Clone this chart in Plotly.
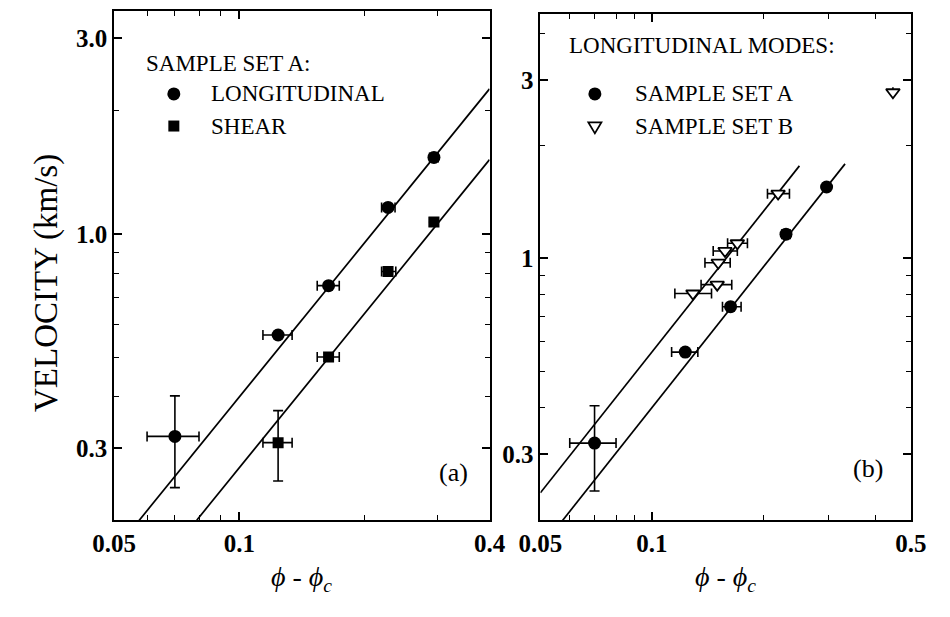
import numpy as np
import plotly.graph_objects as go

# ---------------- data ----------------
# Panel (a): sample set A
long_a_x = [0.070, 0.124, 0.164, 0.228, 0.294]
long_a_y = [0.320, 0.566, 0.747, 1.160, 1.536]
long_a_xlo = [0.060, 0.114, 0.154, 0.220, 0.287]
long_a_xhi = [0.080, 0.134, 0.174, 0.237, 0.301]
long_a_ylo = [0.240, None, None, None, None]
long_a_yhi = [0.402, None, None, None, None]

shear_a_x = [0.124, 0.164, 0.228, 0.294]
shear_a_y = [0.309, 0.500, 0.809, 1.068]
shear_a_xlo = [0.114, 0.154, 0.220, 0.287]
shear_a_xhi = [0.134, 0.174, 0.238, 0.301]
shear_a_ylo = [0.249, None, None, None]
shear_a_yhi = [0.370, None, None, None]

# Panel (b): longitudinal modes
b_setA_x = [0.070, 0.123, 0.163, 0.230, 0.296]
b_setA_y = [0.321, 0.562, 0.743, 1.161, 1.552]
b_setA_xlo = [0.060, 0.113, 0.155, 0.224, 0.290]
b_setA_xhi = [0.080, 0.133, 0.174, 0.236, 0.302]
b_setA_ylo = [0.239, None, None, None, None]
b_setA_yhi = [0.404, None, None, None, None]

b_setB_x = [0.129, 0.150, 0.151, 0.1575, 0.170, 0.219, 0.447]
b_setB_y = [0.806, 0.851, 0.974, 1.047, 1.098, 1.490, 2.78]
b_setB_xlo = [0.1153, 0.1357, 0.139, 0.1463, 0.160, 0.205, None]
b_setB_xhi = [0.1448, 0.1642, 0.1626, 0.170, 0.181, 0.235, None]

# power-law fits  v = A * (phi - phi_c)^n
fit_exponent = 1.25
fit_A_long_setA = 7.1
fit_A_shear_setA = 4.77
fit_A_long_setB = 10.0
fit_xrange_a_long = [0.0574, 0.40]
fit_xrange_a_shear = [0.079, 0.40]
fit_xrange_b_setA = [0.0569, 0.332]
fit_xrange_b_setB = [0.050, 0.250]

# axis ticks
xa_range = [0.05, 0.4]
xb_range = [0.05, 0.5]
ya_range = [0.2, 3.5]
yb_range = [0.2, 4.5]
xa_ticks = [0.05, 0.1, 0.4]
xa_ticktext = ["0.05", "0.1", "0.4"]
xa_minor = [0.06, 0.07, 0.08, 0.09, 0.2, 0.3]
xb_ticks = [0.05, 0.1, 0.5]
xb_ticktext = ["0.05", "0.1", "0.5"]
xb_minor = [0.06, 0.07, 0.08, 0.09, 0.2, 0.3, 0.4]
ya_ticks = [0.3, 1.0, 3.0]
ya_ticktext = ["0.3", "1.0", "3.0"]
ya_minor = [0.4, 0.5, 0.6, 0.7, 0.8, 0.9, 2.0]
yb_ticks = [0.3, 1, 3]
yb_ticktext = ["0.3", "1", "3"]
yb_minor = [0.4, 0.5, 0.6, 0.7, 0.8, 0.9, 2.0, 4.0]

FONT = "Liberation Serif"


def err(vals, lo, hi):
    plus = [None if h is None else h - v for v, h in zip(vals, hi)]
    minus = [None if l is None else v - l for v, l in zip(vals, lo)]
    return plus, minus


def fit_line(A, xr):
    x = np.array(xr)
    return x, A * x ** fit_exponent


fig = go.Figure()

ebar = dict(type="data", symmetric=False, color="black", thickness=1.6, width=5)


def add_points(x, y, xlo, xhi, ylo, yhi, symbol, size, xa, ya, open_=False):
    xp, xm = err(x, xlo, xhi)
    kw = {}
    kw["error_x"] = dict(ebar, array=xp, arrayminus=xm)
    if ylo is not None:
        yp, ym = err(y, ylo, yhi)
        kw["error_y"] = dict(ebar, array=yp, arrayminus=ym)
    marker = dict(symbol=symbol, size=size, color="white" if open_ else "black",
                  line=dict(color="black", width=1.8 if open_ else 0))
    fig.add_trace(go.Scatter(x=x, y=y, mode="markers", marker=marker,
                             xaxis=xa, yaxis=ya, showlegend=False, **kw))


def add_line(A, xr, xa, ya):
    lx, ly = fit_line(A, xr)
    fig.add_trace(go.Scatter(x=lx, y=ly, mode="lines", line=dict(color="black", width=1.7),
                             xaxis=xa, yaxis=ya, showlegend=False, hoverinfo="skip"))


# panel (a)
add_line(fit_A_long_setA, fit_xrange_a_long, "x", "y")
add_line(fit_A_shear_setA, fit_xrange_a_shear, "x", "y")
add_points(long_a_x, long_a_y, long_a_xlo, long_a_xhi, long_a_ylo, long_a_yhi, "circle", 13, "x", "y")
add_points(shear_a_x, shear_a_y, shear_a_xlo, shear_a_xhi, shear_a_ylo, shear_a_yhi, "square", 11, "x", "y")

# panel (b)
add_line(fit_A_long_setB, fit_xrange_b_setB, "x2", "y2")
add_line(fit_A_long_setA, fit_xrange_b_setA, "x2", "y2")
add_points(b_setA_x, b_setA_y, b_setA_xlo, b_setA_xhi, b_setA_ylo, b_setA_yhi, "circle", 13, "x2", "y2")
add_points(b_setB_x, b_setB_y, b_setB_xlo, b_setB_xhi, None, None, "triangle-down", 12, "x2", "y2", open_=True)


def axis(rng, ticks, text, minor, domain, anchor):
    return dict(type="log", range=[np.log10(rng[0]), np.log10(rng[1])], domain=domain, anchor=anchor,
                tickmode="array", tickvals=ticks, ticktext=[f"<b>{t}</b>" for t in text],
                ticks="inside", ticklen=8, tickwidth=1.6, tickcolor="black",
                minor=dict(tickmode="array", tickvals=minor, ticks="inside", ticklen=5,
                           tickwidth=1.3, tickcolor="black"),
                showline=True, linecolor="black", linewidth=2, mirror="allticks",
                showgrid=False, zeroline=False,
                tickfont=dict(family=FONT, size=25, color="black"))


W, H = 950, 617
xa_dom = [96 / W, 487 / W]
xb_dom = [540 / W, 926 / W]
ya_dom = [1 - 520 / H, 1 - 11 / H]
yb_dom = [1 - 520 / H, 1 - 14 / H]

fig.update_layout(
    width=W, height=H, autosize=False,
    margin=dict(l=0, r=0, t=0, b=0),
    paper_bgcolor="white", plot_bgcolor="white",
    xaxis=axis(xa_range, xa_ticks, xa_ticktext, xa_minor, xa_dom, "y"),
    yaxis=axis(ya_range, ya_ticks, ya_ticktext, ya_minor, ya_dom, "x"),
    xaxis2=axis(xb_range, xb_ticks, xb_ticktext, xb_minor, xb_dom, "y2"),
    yaxis2=axis(yb_range, yb_ticks, yb_ticktext, yb_minor, yb_dom, "x2"),
    font=dict(family=FONT, color="black"),
)

ann = []
shapes = []


def txt(x, y, s, xref, yref, size=23, xanchor="left", **kw):
    ann.append(dict(x=x, y=y, xref=xref, yref=yref, text=s, showarrow=False,
                    xanchor=xanchor, yanchor="middle",
                    font=dict(family=FONT, size=size, color="black"), **kw))


# legend (a)
txt(0.079, 0.896, "SAMPLE SET A:", "x domain", "y domain")
txt(0.253, 0.837, "LONGITUDINAL", "x domain", "y domain")
txt(0.253, 0.774, "SHEAR", "x domain", "y domain")
shapes.append(dict(type="circle", xref="x domain", yref="y domain", xsizemode="pixel", ysizemode="pixel",
                   xanchor=0.159, yanchor=0.837, x0=-6.5, x1=6.5, y0=-6.5, y1=6.5,
                   fillcolor="black", line=dict(width=0)))
shapes.append(dict(type="rect", xref="x domain", yref="y domain", xsizemode="pixel", ysizemode="pixel",
                   xanchor=0.159, yanchor=0.774, x0=-5.5, x1=5.5, y0=-5.5, y1=5.5,
                   fillcolor="black", line=dict(width=0)))

# legend (b)
txt(0.073, 0.937, "LONGITUDINAL MODES:", "x2 domain", "y2 domain")
txt(0.249, 0.842, "SAMPLE SET A", "x2 domain", "y2 domain")
txt(0.249, 0.777, "SAMPLE SET B", "x2 domain", "y2 domain")
shapes.append(dict(type="circle", xref="x2 domain", yref="y2 domain", xsizemode="pixel", ysizemode="pixel",
                   xanchor=0.147, yanchor=0.842, x0=-6.5, x1=6.5, y0=-6.5, y1=6.5,
                   fillcolor="black", line=dict(width=0)))
shapes.append(dict(type="path", xref="x2 domain", yref="y2 domain", xsizemode="pixel", ysizemode="pixel",
                   xanchor=0.147, yanchor=0.777, path="M -6.5,4.5 L 6.5,4.5 L 0,-6.5 Z",
                   fillcolor="white", line=dict(color="black", width=1.8)))

# panel labels
txt(0.905, 0.094, "(a)", "x domain", "y domain", size=26, xanchor="center")
txt(0.885, 0.101, "(b)", "x2 domain", "y2 domain", size=26, xanchor="center")

# axis titles
txt(25 / W, 1 - 283 / H, "VELOCITY (km/s)", "paper", "paper", size=33, xanchor="center", textangle=-90)
txt(291 / W, 1 - 578 / H, "<i>ϕ</i> - <i>ϕ</i><sub><i>c</i></sub>", "paper", "paper", size=28, xanchor="center")
txt(733 / W, 1 - 578 / H, "<i>ϕ</i> - <i>ϕ</i><sub><i>c</i></sub>", "paper", "paper", size=28, xanchor="center")

fig.update_layout(annotations=ann, shapes=shapes)
fig.write_html("out.html")
